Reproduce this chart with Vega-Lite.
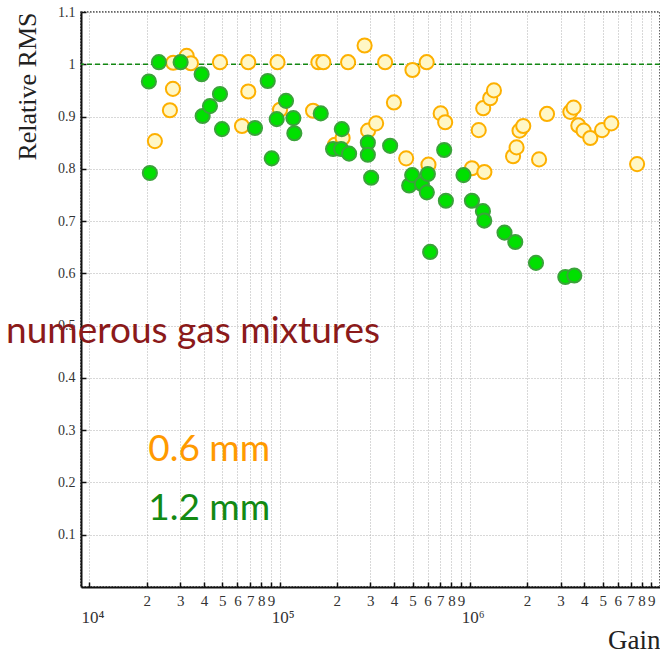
{
  "$schema": "https://vega.github.io/schema/vega-lite/v6.json",
  "width": 579,
  "height": 575,
  "autosize": {"type": "none"},
  "padding": {"left": 81, "top": 12, "right": 0, "bottom": 67},
  "background": "white",
  "config": {
    "view": {"stroke": "#333", "strokeWidth": 1.5, "strokeDash": [1.5, 1.5]}
  },
  "data": {
    "values": [
      {"g": 22090, "r": 0.853, "d": "0.6 mm"},
      {"g": 26500, "r": 0.912, "d": "0.6 mm"},
      {"g": 27480, "r": 0.953, "d": "0.6 mm"},
      {"g": 27580, "r": 1.003, "d": "0.6 mm"},
      {"g": 32450, "r": 1.016, "d": "0.6 mm"},
      {"g": 34180, "r": 1.002, "d": "0.6 mm"},
      {"g": 48570, "r": 1.004, "d": "0.6 mm"},
      {"g": 68430, "r": 1.004, "d": "0.6 mm"},
      {"g": 68430, "r": 0.948, "d": "0.6 mm"},
      {"g": 63410, "r": 0.882, "d": "0.6 mm"},
      {"g": 97480, "r": 1.004, "d": "0.6 mm"},
      {"g": 100500, "r": 0.913, "d": "0.6 mm"},
      {"g": 149900, "r": 0.911, "d": "0.6 mm"},
      {"g": 159800, "r": 1.004, "d": "0.6 mm"},
      {"g": 169800, "r": 1.004, "d": "0.6 mm"},
      {"g": 195700, "r": 0.846, "d": "0.6 mm"},
      {"g": 214400, "r": 0.859, "d": "0.6 mm"},
      {"g": 229100, "r": 1.004, "d": "0.6 mm"},
      {"g": 279800, "r": 1.036, "d": "0.6 mm"},
      {"g": 291900, "r": 0.873, "d": "0.6 mm"},
      {"g": 321700, "r": 0.887, "d": "0.6 mm"},
      {"g": 358600, "r": 1.004, "d": "0.6 mm"},
      {"g": 399100, "r": 0.927, "d": "0.6 mm"},
      {"g": 462800, "r": 0.820, "d": "0.6 mm"},
      {"g": 499400, "r": 0.989, "d": "0.6 mm"},
      {"g": 593200, "r": 1.004, "d": "0.6 mm"},
      {"g": 606200, "r": 0.808, "d": "0.6 mm"},
      {"g": 702800, "r": 0.906, "d": "0.6 mm"},
      {"g": 742100, "r": 0.889, "d": "0.6 mm"},
      {"g": 1026000, "r": 0.801, "d": "0.6 mm"},
      {"g": 1114000, "r": 0.874, "d": "0.6 mm"},
      {"g": 1176000, "r": 0.916, "d": "0.6 mm"},
      {"g": 1193000, "r": 0.794, "d": "0.6 mm"},
      {"g": 1280000, "r": 0.935, "d": "0.6 mm"},
      {"g": 1339000, "r": 0.950, "d": "0.6 mm"},
      {"g": 1688000, "r": 0.824, "d": "0.6 mm"},
      {"g": 1762000, "r": 0.841, "d": "0.6 mm"},
      {"g": 1826000, "r": 0.873, "d": "0.6 mm"},
      {"g": 1910000, "r": 0.882, "d": "0.6 mm"},
      {"g": 2313000, "r": 0.818, "d": "0.6 mm"},
      {"g": 2546000, "r": 0.905, "d": "0.6 mm"},
      {"g": 3376000, "r": 0.909, "d": "0.6 mm"},
      {"g": 3514000, "r": 0.917, "d": "0.6 mm"},
      {"g": 3720000, "r": 0.883, "d": "0.6 mm"},
      {"g": 3966000, "r": 0.873, "d": "0.6 mm"},
      {"g": 4302000, "r": 0.859, "d": "0.6 mm"},
      {"g": 4959000, "r": 0.874, "d": "0.6 mm"},
      {"g": 5548000, "r": 0.887, "d": "0.6 mm"},
      {"g": 7578000, "r": 0.809, "d": "0.6 mm"},
      {"g": 20540, "r": 0.967, "d": "1.2 mm"},
      {"g": 20790, "r": 0.792, "d": "1.2 mm"},
      {"g": 23190, "r": 1.004, "d": "1.2 mm"},
      {"g": 30170, "r": 1.004, "d": "1.2 mm"},
      {"g": 38900, "r": 0.981, "d": "1.2 mm"},
      {"g": 39380, "r": 0.901, "d": "1.2 mm"},
      {"g": 43020, "r": 0.920, "d": "1.2 mm"},
      {"g": 48570, "r": 0.943, "d": "1.2 mm"},
      {"g": 49760, "r": 0.876, "d": "1.2 mm"},
      {"g": 74210, "r": 0.878, "d": "1.2 mm"},
      {"g": 86590, "r": 0.968, "d": "1.2 mm"},
      {"g": 90870, "r": 0.820, "d": "1.2 mm"},
      {"g": 96540, "r": 0.895, "d": "1.2 mm"},
      {"g": 108060, "r": 0.930, "d": "1.2 mm"},
      {"g": 118100, "r": 0.897, "d": "1.2 mm"},
      {"g": 119500, "r": 0.868, "d": "1.2 mm"},
      {"g": 164560, "r": 0.906, "d": "1.2 mm"},
      {"g": 191000, "r": 0.838, "d": "1.2 mm"},
      {"g": 210500, "r": 0.838, "d": "1.2 mm"},
      {"g": 212300, "r": 0.876, "d": "1.2 mm"},
      {"g": 231900, "r": 0.829, "d": "1.2 mm"},
      {"g": 291000, "r": 0.850, "d": "1.2 mm"},
      {"g": 291000, "r": 0.827, "d": "1.2 mm"},
      {"g": 302800, "r": 0.783, "d": "1.2 mm"},
      {"g": 381100, "r": 0.844, "d": "1.2 mm"},
      {"g": 479800, "r": 0.768, "d": "1.2 mm"},
      {"g": 497600, "r": 0.788, "d": "1.2 mm"},
      {"g": 559600, "r": 0.771, "d": "1.2 mm"},
      {"g": 594500, "r": 0.755, "d": "1.2 mm"},
      {"g": 601800, "r": 0.790, "d": "1.2 mm"},
      {"g": 618800, "r": 0.641, "d": "1.2 mm"},
      {"g": 733400, "r": 0.836, "d": "1.2 mm"},
      {"g": 748600, "r": 0.739, "d": "1.2 mm"},
      {"g": 926400, "r": 0.788, "d": "1.2 mm"},
      {"g": 1026000, "r": 0.739, "d": "1.2 mm"},
      {"g": 1172000, "r": 0.719, "d": "1.2 mm"},
      {"g": 1191000, "r": 0.701, "d": "1.2 mm"},
      {"g": 1522000, "r": 0.678, "d": "1.2 mm"},
      {"g": 1734000, "r": 0.660, "d": "1.2 mm"},
      {"g": 2228000, "r": 0.620, "d": "1.2 mm"},
      {"g": 3178000, "r": 0.593, "d": "1.2 mm"},
      {"g": 3544000, "r": 0.596, "d": "1.2 mm"}
    ]
  },
  "layer": [
    {
      "data": {"values": [{}]},
      "mark": {"type": "rule", "color": "#128712", "strokeDash": [5, 3], "strokeWidth": 1.6},
      "encoding": {
        "y": {"datum": 1, "type": "quantitative"}
      }
    },
    {
      "mark": {"type": "circle", "size": 200, "strokeWidth": 2, "opacity": 1},
      "encoding": {
        "x": {
          "field": "g", "type": "quantitative",
          "scale": {"type": "log", "domain": [9030, 10000000], "nice": false},
          "axis": {
            "title": "Gain",
            "values": [10000, 20000, 30000, 40000, 50000, 60000, 70000, 80000, 90000, 100000, 200000, 300000, 400000, 500000, 600000, 700000, 800000, 900000, 1000000, 2000000, 3000000, 4000000, 5000000, 6000000, 7000000, 8000000, 9000000],
            "labelExpr": "abs(log(datum.value)/LN10 - round(log(datum.value)/LN10)) < 0.001 ? (datum.value < 50000 ? '10⁴' : datum.value < 500000 ? '10⁵' : '10⁶') : '' + round(datum.value / pow(10, floor(log(datum.value)/LN10 + 0.001)))",
            "grid": true,
            "gridColor": "#b0b0b0", "gridDash": [1, 2], "gridWidth": 1,
            "domainColor": "#111", "domainWidth": 2,
            "tickColor": "#111", "tickSize": -5, "tickWidth": 1.5,
            "labelFont": "Liberation Serif", "labelColor": "#333",
            "labelFontSize": {"condition": {"test": "abs(log(datum.value)/LN10 - round(log(datum.value)/LN10)) < 0.001", "value": 17}, "value": 15},
            "labelBaseline": "middle",
            "labelPadding": {"condition": {"test": "abs(log(datum.value)/LN10 - round(log(datum.value)/LN10)) < 0.001", "value": 35}, "value": 18},
            "labelOffset": {"condition": {"test": "abs(log(datum.value)/LN10 - round(log(datum.value)/LN10)) < 0.001", "value": 3}, "value": 0},
            "labelFlush": false, "labelOverlap": false,
            "titleFont": "Liberation Serif", "titleFontSize": 27, "titleFontWeight": "normal", "titleColor": "#222",
            "titleAnchor": "end", "titleAlign": "right", "titleBaseline": "alphabetic", "titleX": 579, "titleY": 61
          }
        },
        "y": {
          "field": "r", "type": "quantitative",
          "scale": {"domain": [0, 1.1], "nice": false, "zero": false},
          "axis": {
            "title": "Relative RMS",
            "values": [0.1, 0.2, 0.3, 0.4, 0.5, 0.6, 0.7, 0.8, 0.9, 1, 1.1],
            "labelExpr": "format(datum.value, '~g')",
            "grid": true,
            "gridColor": "#b0b0b0", "gridDash": [1, 2], "gridWidth": 1,
            "domainColor": "#111", "domainWidth": 2,
            "tickColor": "#111", "tickSize": -5, "tickWidth": 1.5,
            "labelFont": "Liberation Serif", "labelFontSize": 14, "labelColor": "#333",
            "labelPadding": 11,
            "titleFont": "Liberation Serif", "titleFontSize": 26, "titleFontWeight": "normal", "titleColor": "#222",
            "titleAngle": -90, "titleAlign": "right", "titleBaseline": "alphabetic", "titleX": -46, "titleY": 0
          }
        },
        "fill": {"field": "d", "type": "nominal", "scale": {"domain": ["0.6 mm", "1.2 mm"], "range": ["#FFF7C6", "#00E000"]}, "legend": null},
        "stroke": {"field": "d", "type": "nominal", "scale": {"domain": ["0.6 mm", "1.2 mm"], "range": ["#FDB000", "#3AA33A"]}, "legend": null}
      }
    },
    {
      "data": {"values": [{"t": "numerous gas mixtures", "g": 337600, "r": 0.4665}]},
      "mark": {"type": "text", "align": "right", "baseline": "alphabetic", "font": "Lato", "fontSize": 37, "color": "#8B1A1A"},
      "encoding": {
        "x": {"field": "g", "type": "quantitative"},
        "y": {"field": "r", "type": "quantitative"},
        "text": {"field": "t"}
      }
    },
    {
      "data": {"values": [{"t": "0.6 mm", "g": 20370, "r": 0.2402}]},
      "mark": {"type": "text", "align": "left", "baseline": "alphabetic", "font": "Lato", "fontSize": 37, "color": "#FF9A00"},
      "encoding": {
        "x": {"field": "g", "type": "quantitative"},
        "y": {"field": "r", "type": "quantitative"},
        "text": {"field": "t"}
      }
    },
    {
      "data": {"values": [{"t": "1.2 mm", "g": 20370, "r": 0.1287}]},
      "mark": {"type": "text", "align": "left", "baseline": "alphabetic", "font": "Lato", "fontSize": 37, "color": "#138A13"},
      "encoding": {
        "x": {"field": "g", "type": "quantitative"},
        "y": {"field": "r", "type": "quantitative"},
        "text": {"field": "t"}
      }
    }
  ]
}
